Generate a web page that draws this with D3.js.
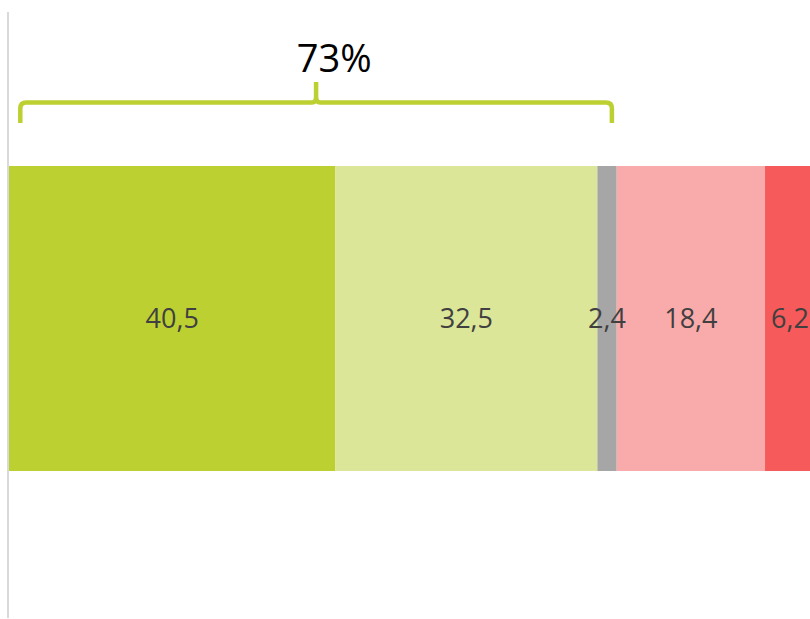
<!DOCTYPE html>
<html>
<head>
<meta charset="utf-8">
<script src="https://cdn.jsdelivr.net/npm/d3@7"></script>
<style>
  html, body { margin: 0; padding: 0; background: #fff; overflow: hidden; }
  svg { display: block; }
  .seg-label { font-family: "Open Sans", sans-serif; font-size: 27px; fill: #404040; }
  .brace-label { font-family: "Open Sans", sans-serif; font-size: 38px; fill: #000; }
</style>
</head>
<body>
<div id="chart"></div>
<script>
// Data for the single stacked bar
var categories = ["a", "b", "c", "d", "e"];
var values = [40.5, 32.5, 2.4, 18.4, 6.2];
var labels = ["40,5", "32,5", "2,4", "18,4", "6,2"];
var colors = ["#bdd031", "#dce699", "#a6a6a6", "#f9abab", "#f65a5a"];

// brace covers the first two segments
var braceRange = [1.4, 74.8];
var braceText = "73%";
var braceTextAt = 40.6;

var width = 810, height = 619;

var svg = d3.select("#chart").append("svg")
    .attr("width", width)
    .attr("height", height);

// scale goes a bit past the right edge, like the original
var x = d3.scaleLinear().domain([0, 100]).range([9, 815]);
var y = d3.scaleBand().domain(["row"]).range([12, 618]).paddingInner(0).paddingOuter(0);
var barTop = 166, barBottom = 471;

// stack the values
var data = [];
var acc = 0;
for (var i = 0; i < values.length; i++) {
    data.push({c: categories[i], v: values[i], x0: acc, x1: acc + values[i], l: labels[i], col: colors[i]});
    acc += values[i];
}

svg.selectAll(".seg")
    .data(data).enter()
    .append("rect")
        .attr("class", "seg")
        .attr("x", function(d) { return x(d.x0); })
        .attr("width", function(d) { return x(d.x1) - x(d.x0); })
        .attr("y", barTop)
        .attr("height", barBottom - barTop)
        .attr("fill", function(d) { return d.col; });

svg.selectAll(".seg-label")
    .data(data).enter()
    .append("text")
        .attr("class", "seg-label")
        .attr("x", function(d) { return (x(d.x0) + x(d.x1)) / 2; })
        .attr("y", 328)
        .attr("text-anchor", "middle")
        .text(function(d) { return d.l; });

// left axis line
svg.append("line")
    .attr("x1", x(0) - 1).attr("x2", x(0) - 1)
    .attr("y1", y.range()[0]).attr("y2", y.range()[1])
    .attr("stroke", "#d9d9d9")
    .attr("stroke-width", 2);

// curly brace
var bx0 = x(braceRange[0]), bx1 = x(braceRange[1]);
var bm = (bx0 + bx1) / 2;
var by = 102.5, bBottom = 123, bTip = 82, r = 6;
var brace = d3.path();
brace.moveTo(bx0, bBottom);
brace.lineTo(bx0, by + r);
brace.quadraticCurveTo(bx0, by, bx0 + r, by);
brace.lineTo(bm - 4, by);
brace.quadraticCurveTo(bm, by, bm, by - 6);
brace.lineTo(bm, bTip);
brace.moveTo(bm, by - 6);
brace.quadraticCurveTo(bm, by, bm + 4, by);
brace.lineTo(bx1 - r, by);
brace.quadraticCurveTo(bx1, by, bx1, by + r);
brace.lineTo(bx1, bBottom);

svg.append("path")
    .attr("d", brace.toString())
    .attr("fill", "none")
    .attr("stroke", "#bdd032")
    .attr("stroke-width", 4.5);

svg.append("text")
    .attr("class", "brace-label")
    .attr("x", x(braceTextAt) - 2)
    .attr("y", 72)
    .attr("text-anchor", "middle")
    .text(braceText);
</script>
</body>
</html>
